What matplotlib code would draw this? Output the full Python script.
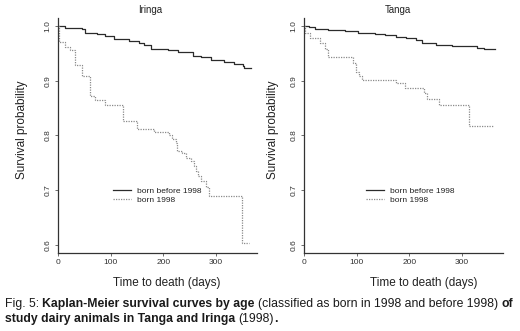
import matplotlib
matplotlib.use('Agg')
import matplotlib.pyplot as plt

plt.rcParams['font.family'] = ['Liberation Sans', 'DejaVu Sans']

# Iringa, Kaplan-Meier estimates (step, post)
iri_old_days = [0, 13, 45, 52, 74, 90, 106, 134, 154, 163, 176, 208, 227, 256, 271, 291, 316, 335, 351, 354, 367]
iri_old_surv = [1.0, 0.9976, 0.9945, 0.988, 0.9855, 0.982, 0.976, 0.973, 0.970, 0.9655, 0.959, 0.956, 0.952,
                0.946, 0.943, 0.938, 0.934, 0.931, 0.928, 0.923, 0.923]
iri_new_days = [0, 2, 13, 23, 32, 45, 60, 71, 90, 124, 150, 182, 211, 217, 224, 226, 236, 243, 252, 259,
                262, 265, 271, 281, 287, 350, 363]
iri_new_surv = [1.0, 0.971, 0.962, 0.956, 0.929, 0.908, 0.872, 0.865, 0.856, 0.826, 0.811, 0.806, 0.800,
                0.793, 0.787, 0.771, 0.768, 0.759, 0.753, 0.744, 0.735, 0.726, 0.717, 0.705, 0.690, 0.604, 0.604]

# Tanga
tan_old_days = [0, 10, 21, 45, 77, 102, 134, 153, 175, 194, 213, 225, 250, 282, 329, 342, 362]
tan_old_surv = [1.0, 0.998, 0.9945, 0.993, 0.9915, 0.987, 0.985, 0.983, 0.980, 0.978, 0.9745, 0.970,
                0.9655, 0.9636, 0.961, 0.958, 0.958]
tan_new_days = [0, 1, 11, 30, 40, 46, 93, 99, 104, 110, 175, 191, 228, 234, 257, 313, 360]
tan_new_surv = [1.0, 0.987, 0.979, 0.969, 0.959, 0.944, 0.932, 0.917, 0.908, 0.902, 0.896, 0.887, 0.877,
                0.867, 0.856, 0.818, 0.818]

labels = ['born before 1998', 'born 1998']
xticks = [0, 100, 200, 300]
yticks = [0.6, 0.7, 0.8, 0.9, 1.0]

W, H = 520, 331
fig = plt.figure(figsize=(W / 100, H / 100), dpi=100)

ax1 = fig.add_axes([58 / W, 1 - 253 / H, 199 / W, 235 / H])
ax2 = fig.add_axes([304 / W, 1 - 253 / H, 199 / W, 235 / H])

panels = [
    (ax1, 'Iringa', iri_old_days, iri_old_surv, iri_new_days, iri_new_surv, 150, 167, 22, 113),
    (ax2, 'Tanga', tan_old_days, tan_old_surv, tan_new_days, tan_new_surv, 398, 424, 273, 366),
]

for ax, title, d1, s1, d2, s2, tx, xlx, ylx, legx in panels:
    ax.step(d1, s1, where='post', color='#2b2b2b', lw=0.9, label=labels[0])
    ax.step(d2, s2, where='post', color='#8a8a8a', lw=0.9, ls=(0, (1, 1)), label=labels[1])
    ax.set_xlim(0, 378)
    ax.set_ylim(0.585, 1.015)
    ax.set_xticks(xticks)
    ax.set_yticks(yticks)
    ax.set_xticklabels([str(v) for v in xticks])
    ax.set_yticklabels(['%.1f' % v for v in yticks], rotation=90, va='center')
    ax.tick_params(labelsize=6, length=2.5, width=0.6, colors='#555555', labelcolor='#333333', pad=2)
    for s in ['top', 'right']:
        ax.spines[s].set_visible(False)
    for s in ['left', 'bottom']:
        ax.spines[s].set_color('#333333')
        ax.spines[s].set_linewidth(0.9)
    ax.patch.set_alpha(0)
    leg = ax.legend(loc='upper left', bbox_to_anchor=((legx - ax.get_position().x0 * W) / 199, 0.28),
                    frameon=False, fontsize=6, handlelength=2.1, handletextpad=0.8,
                    labelspacing=0.15, borderpad=0, borderaxespad=0)
    for t in leg.get_texts():
        t.set_color('#222222')
    fig.text(tx / W, 1 - 10 / H, title, ha='center', va='center', fontsize=7, color='#222222')
    fig.text(xlx / W, 1 - 283 / H, 'Time to death (days)', ha='center', va='center', fontsize=8.5,
             color='#222222')
    fig.text(ylx / W, 1 - 130 / H, 'Survival probability', ha='center', va='center', rotation=90,
             fontsize=8.5, color='#222222')

# caption, mixing bold and regular pieces
cap_fs = 8.8
cap_col = '#1a1a1a'
t0 = fig.text(5 / W, 1 - 310 / H, 'Fig. 5:', fontsize=cap_fs, color=cap_col, va='bottom')
prev = t0
for txt, wt, gap in [('Kaplan-Meier survival curves by age', 'bold', 2.4),
                     ('(classified as born in 1998 and before 1998)', 'normal', 2.4),
                     ('of', 'bold', 2.4)]:
    prev = ax1.annotate(txt, xy=(1, 0), xycoords=prev, xytext=(gap, 0), textcoords='offset points',
                        fontsize=cap_fs, fontweight=wt, color=cap_col, va='bottom', ha='left',
                        annotation_clip=False)
t1 = fig.text(5 / W, 1 - 325 / H, 'study dairy animals in Tanga and Iringa', fontsize=cap_fs,
              fontweight='bold', color=cap_col, va='bottom')
prev = t1
for txt, wt, gap in [('(1998)', 'normal', 2.4), ('.', 'bold', 0)]:
    prev = ax1.annotate(txt, xy=(1, 0), xycoords=prev, xytext=(gap, 0), textcoords='offset points',
                        fontsize=cap_fs, fontweight=wt, color=cap_col, va='bottom', ha='left',
                        annotation_clip=False)

fig.savefig('out.png', dpi=100)
